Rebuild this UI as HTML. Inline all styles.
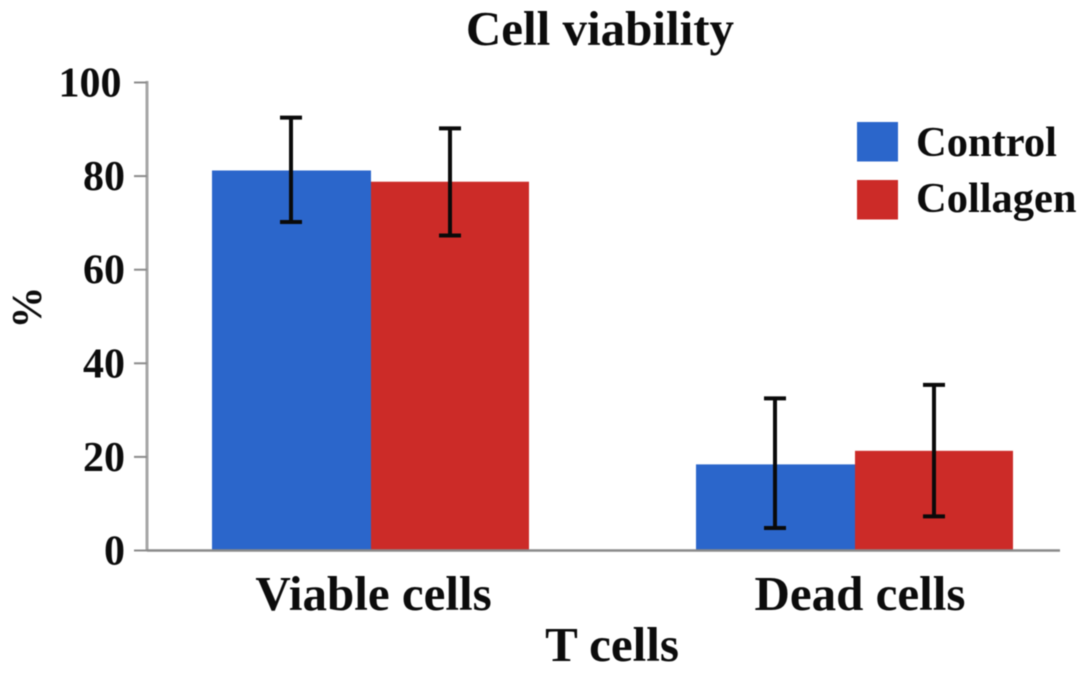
<!DOCTYPE html>
<html>
<head>
<meta charset="utf-8">
<style>
html,body{margin:0;padding:0;background:#fff;}
svg{display:block;filter:blur(0.6px);}
text{font-family:"Liberation Serif",serif;font-weight:bold;fill:#0c0c0c;}
</style>
</head>
<body>
<svg id="chart" width="1087" height="673" viewBox="0 0 1087 673" xmlns="http://www.w3.org/2000/svg"></svg>
<script>
const categories = ["Viable cells", "Dead cells"];
const seriesNames = ["Control", "Collagen"];
const seriesColors = ["#2b66cb", "#cc2b28"];
const controlValues = [81.2, 18.4];
const collagenValues = [78.8, 21.3];
const controlLow = [70.2, 4.8];
const controlHigh = [92.5, 32.5];
const collagenLow = [67.3, 7.3];
const collagenHigh = [90.2, 35.4];
const yTicks = [0, 20, 40, 60, 80, 100];

const svg = document.getElementById('chart');
const NS = 'http://www.w3.org/2000/svg';
function make(tag, attrs, text) {
  const el = document.createElementNS(NS, tag);
  for (const k in attrs) el.setAttribute(k, attrs[k]);
  if (text !== undefined) el.textContent = text;
  svg.appendChild(el);
  return el;
}
const plotLeft = 147, plotRight = 1060, plotBottom = 550.5, plotTop = 82.5;
function y(v) { return plotBottom - (v / 100) * (plotBottom - plotTop); }
const groupCenters = [371, 855];
function x(i) { return groupCenters[i]; }
const blueWidth = 159, redWidth = 158;

let el;
el = make('text', {x: 600, y: 45, 'font-size': 49, 'text-anchor': 'middle'}, 'Cell viability');



el = make('line', {x1: plotLeft, y1: plotTop - 1.5, x2: plotLeft, y2: plotBottom, stroke: '#a6a6a6', 'stroke-width': 3});



yTicks.forEach(function (t) {
  const tick = make('line', {x1: 134, y1: y(t), x2: plotLeft, y2: y(t), stroke: '#8c8c8c', 'stroke-width': 2});
  
  
  const label = make('text', {x: String(t).length > 2 ? 121.5 : 125, y: y(t) + 14, 'font-size': 42, 'text-anchor': 'end'}, String(t));
  
  
});

const allValues = [controlValues, collagenValues];
const allLow = [controlLow, collagenLow];
const allHigh = [controlHigh, collagenHigh];
categories.forEach(function (cat, i) {
  allValues.forEach(function (vals, s) {
    const left = x(i) + (s === 0 ? -blueWidth : 0);
    const bar = make('rect', {x: left, y: y(vals[i]), width: s === 0 ? blueWidth : redWidth, height: plotBottom - y(vals[i]), fill: seriesColors[s]});
    
    
  });
});

el = make('line', {x1: plotLeft, y1: plotBottom, x2: plotRight, y2: plotBottom, stroke: '#8a8a8a', 'stroke-width': 2.5});



const categoryLabelCenters = [373.5, 860];
categories.forEach(function (cat, i) {
  allValues.forEach(function (vals, s) {
    const cx = x(i) + (s === 0 ? -80 : 79);
    const lo = y(allLow[s][i]), hi = y(allHigh[s][i]);
    const d = 'M' + cx + ' ' + hi + 'V' + lo + 'M' + (cx - 11) + ' ' + hi + 'H' + (cx + 11) + 'M' + (cx - 11) + ' ' + lo + 'H' + (cx + 11);
    const err = make('path', {d: d, stroke: '#0a0a0a', 'stroke-width': 4, fill: 'none'});
    
    
  });
  const label = make('text', {x: categoryLabelCenters[i], y: 610, 'font-size': 49, 'text-anchor': 'middle'}, cat);
  
  
});

el = make('text', {x: 612, y: 661, 'font-size': 49, 'text-anchor': 'middle'}, 'T cells');



el = make('text', {x: 0, y: 0, 'font-size': 42, 'text-anchor': 'middle', transform: 'translate(41 307.5) rotate(-90)'}, '%');



seriesNames.forEach(function (name, s) {
  const top = 122 + s * 58;
  const swatch = make('rect', {x: 857, y: top, width: 41, height: 39.5, fill: seriesColors[s]});
  
  
  const label = make('text', {x: 916, y: 156 + s * 56, 'font-size': 42.5}, name);
  
  
});
</script>
</body>
</html>
